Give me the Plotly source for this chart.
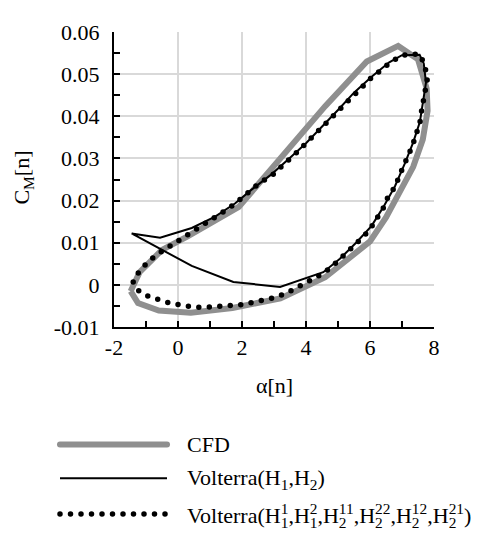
import plotly.graph_objects as go

# ---------------- data ----------------
cfd_alpha = [-1.48, -1.25, -0.60, 0.40, 1.70, 3.20, 4.60, 6.00, 6.50, 6.95, 7.35, 7.65,
             7.80, 7.77, 7.50, 6.88, 5.90, 4.60, 3.10, 1.90, 0.30, -0.50, -1.20, -1.48]
cfd_cm = [-0.0015, -0.0043, -0.0061, -0.0066, -0.0055, -0.0032, 0.0018, 0.0103, 0.0160, 0.0222,
          0.0280, 0.0345, 0.0413, 0.0466, 0.0535, 0.0567, 0.0530, 0.0424, 0.0290, 0.0185,
          0.0115, 0.0083, 0.0030, -0.0015]

v12_alpha = [-1.45, 0.43, 1.73, 3.19, 4.54, 5.06, 5.58, 6.05, 6.42, 6.78, 7.09, 7.35, 7.56,
             7.67, 7.75, 7.68, 7.55, 7.00, 6.60, 6.05, 5.50, 5.00, 4.50, 4.00, 3.45, 2.90,
             2.30, 1.78, 1.16, 0.43, -0.56, -1.45]
v12_cm = [0.0122, 0.0045, 0.0007, -0.0005, 0.0030, 0.0062, 0.0101, 0.0140, 0.0185, 0.0234,
          0.0288, 0.0338, 0.0387, 0.0440, 0.0480, 0.0525, 0.0546, 0.0545, 0.0528, 0.0494,
          0.0456, 0.0415, 0.0376, 0.0336, 0.0298, 0.0261, 0.0226, 0.0193, 0.0162, 0.0135,
          0.0112, 0.0122]

vfull_alpha = [-1.40, -1.22, -0.91, -0.56, -0.22, 0.17, 0.51, 0.90, 1.26, 1.63, 1.99, 2.38,
               2.72, 3.10, 3.50, 3.87, 4.18, 4.51, 4.80, 5.06, 5.32, 5.58, 5.84, 6.05, 6.23,
               6.42, 6.57, 6.78, 6.94, 7.09, 7.23, 7.35, 7.46, 7.56, 7.61, 7.67, 7.72, 7.80,
               7.70, 7.57, 7.25, 6.96, 6.63, 6.31, 6.05, 5.79, 5.53, 5.27, 5.01, 4.75, 4.52,
               4.26, 4.00, 3.71, 3.45, 3.19, 2.93, 2.56, 2.30, 2.04, 1.78, 1.47, 1.16, 0.84,
               0.53, 0.24, -0.07, -0.39, -0.70, -0.98, -1.22, -1.40]
vfull_cm = [0.0007, -0.0015, -0.0028, -0.0037, -0.0044, -0.0049, -0.0053, -0.0053, -0.0052,
            -0.0051, -0.0047, -0.0041, -0.0036, -0.0029, -0.0015, -0.0001, 0.0013, 0.0026,
            0.0043, 0.0060, 0.0080, 0.0099, 0.0118, 0.0138, 0.0160, 0.0183, 0.0210, 0.0232,
            0.0263, 0.0286, 0.0313, 0.0336, 0.0360, 0.0385, 0.0412, 0.0439, 0.0466, 0.0492,
            0.0521, 0.0546, 0.0548, 0.0543, 0.0527, 0.0509, 0.0492, 0.0472, 0.0454, 0.0433,
            0.0413, 0.0393, 0.0374, 0.0353, 0.0334, 0.0314, 0.0296, 0.0278, 0.0259, 0.0243,
            0.0225, 0.0209, 0.0192, 0.0176, 0.0161, 0.0146, 0.0131, 0.0115, 0.0100, 0.0086,
            0.0070, 0.0051, 0.0031, 0.0007]

x_tick_vals = [-2, 0, 2, 4, 6, 8]
x_tick_labels = ["-2", "0", "2", "4", "6", "8"]
y_tick_vals = [-0.01, 0, 0.01, 0.02, 0.03, 0.04, 0.05, 0.06]
y_tick_labels = ["-0.01", "0", "0.01", "0.02", "0.03", "0.04", "0.05", "0.06"]

series_names = [
    "CFD",
    "Volterra(H<sub>1</sub>,H<sub>2</sub>)",
    "Volterra(H<sup>1</sup><sub>1</sub>,H<sup>2</sup><sub>1</sub>,H<sup>11</sup><sub>2</sub>,"
    "H<sup>22</sup><sub>2</sub>,H<sup>12</sup><sub>2</sub>,H<sup>21</sup><sub>2</sub>)",
]
x_title = "α[n]"
y_title = "C<sub>M</sub>[n]"

# ---------------- layout geometry ----------------
OFF = 8                      # page body margin
W, H = 492 - OFF, 535 - OFF  # figure size so that it fits the window
# plot area in page pixels
PL, PR, PT, PB = 114, 434, 21, 327
FONT = "Liberation Serif"
FS = 22
GRAY = "#8f8f8f"


def px_x(p):
    return (p - PL) / (PR - PL)


def px_y(p):
    return (PB - p) / (PB - PT)


fig = go.Figure()
fig.add_trace(go.Scatter(x=cfd_alpha, y=cfd_cm, mode="lines", name=series_names[0],
                         line=dict(color=GRAY, width=6), showlegend=False))
fig.add_trace(go.Scatter(x=v12_alpha, y=v12_cm, mode="lines", name=series_names[1],
                         line=dict(color="black", width=2), showlegend=False))
fig.add_trace(go.Scatter(x=vfull_alpha, y=vfull_cm, mode="lines", name=series_names[2],
                         line=dict(color="black", width=5.5, dash="5px,5px"), showlegend=False))

axis_common = dict(
    showline=True, linecolor="black", linewidth=2, mirror=False,
    showgrid=True, gridcolor="#d9d9d9", gridwidth=2, zeroline=False,
    ticks="inside", ticklen=6, tickwidth=1.5, tickcolor="black",
    tickfont=dict(family=FONT, size=FS, color="black"),
    tickmode="array",
)
fig.update_xaxes(range=[-2, 8], tickvals=x_tick_vals, ticktext=x_tick_labels,
                 minor=dict(tickmode="linear", tick0=0, dtick=1, ticks="inside", ticklen=6,
                            tickwidth=1.5, tickcolor="black", showgrid=False),
                 **axis_common)
fig.update_yaxes(range=[-0.01, 0.06], tickvals=y_tick_vals, ticktext=y_tick_labels,
                 ticklabelstandoff=8,
                 minor=dict(tickmode="linear", tick0=0, dtick=0.005, ticks="inside", ticklen=6,
                            tickwidth=1.5, tickcolor="black", showgrid=False),
                 **axis_common)

annotations = [
    dict(text=x_title, x=px_x(274), y=px_y(388), xref="paper", yref="paper",
         showarrow=False, xanchor="center", yanchor="middle",
         font=dict(family=FONT, size=FS, color="black")),
    dict(text=y_title, x=px_x(23), y=px_y(172), xref="paper", yref="paper",
         showarrow=False, xanchor="center", yanchor="middle", textangle=-90,
         font=dict(family=FONT, size=FS, color="black")),
]
shapes = []
legend_rows = [449, 484, 521]
legend_text_rows = [449, 485, 523]
legend_styles = [dict(color=GRAY, width=6), dict(color="black", width=2),
                 dict(color="black", width=5.5, dash="5px,5px")]
for name, row, trow, st in zip(series_names, legend_rows, legend_text_rows, legend_styles):
    shapes.append(dict(type="line", xref="paper", yref="paper",
                       x0=px_x(60), x1=px_x(167), y0=px_y(row), y1=px_y(row), line=st))
    annotations.append(dict(text=name, x=px_x(185), y=px_y(trow), xref="paper", yref="paper",
                            showarrow=False, xanchor="left", yanchor="middle", align="left",
                            font=dict(family=FONT, size=FS, color="black")))

fig.update_layout(
    width=W, height=H, autosize=False,
    margin=dict(l=PL - OFF, r=W - (PR - OFF), t=PT - OFF, b=H - (PB - OFF), pad=0),
    paper_bgcolor="white", plot_bgcolor="white",
    font=dict(family=FONT, size=FS, color="black"),
    annotations=annotations, shapes=shapes, showlegend=False,
)

post_js = r"""
var gd = document.getElementById('{plot_id}');
function fixAll(){
  var tr = gd.querySelectorAll('.scatterlayer .trace');
  if (tr.length > 2) {
    var p = tr[2].querySelector('path.js-line');
    if (p) { p.style.strokeDasharray = '0px 10.5px'; p.style.strokeLinecap = 'round'; }
  }
  gd.querySelectorAll('.shapelayer path').forEach(function(s){
    var idx = s.getAttribute('data-index');
    if (idx === '0') { s.style.strokeLinecap = 'round'; }
    if (idx === '2') { s.style.strokeDasharray = '0px 10.5px'; s.style.strokeLinecap = 'round'; }
  });
  gd.querySelectorAll('text').forEach(function(t){
    var ts = Array.prototype.slice.call(t.querySelectorAll('tspan'));
    function blank(el){ return el.textContent.replace(/[\u200b\s]/g,'').length === 0; }
    function kind(el){
      if (blank(el)) return 'blank';
      var dy = parseFloat(el.getAttribute('dy') || '0');
      if (dy < 0) return 'sup';
      if (dy > 0) return 'sub';
      return 'other';
    }
    for (var i = 0; i < ts.length; i++) {
      if (kind(ts[i]) !== 'sup') continue;
      var j = i + 1;
      while (j < ts.length && kind(ts[j]) === 'blank') j++;
      if (j >= ts.length || kind(ts[j]) !== 'sub') continue;
      var wa = ts[i].getComputedTextLength();
      var wb = ts[j].getComputedTextLength();
      var cur = parseFloat(ts[j].getAttribute('dx') || '0');
      ts[j].setAttribute('dx', (cur - wa) + 'px');
      var k = j + 1;
      if (k < ts.length && wa > wb) {
        var c2 = parseFloat(ts[k].getAttribute('dx') || '0');
        ts[k].setAttribute('dx', (c2 + wa - wb) + 'px');
      }
    }
  });
}
fixAll();
"""

fig.write_html("out.html", post_script=post_js)
